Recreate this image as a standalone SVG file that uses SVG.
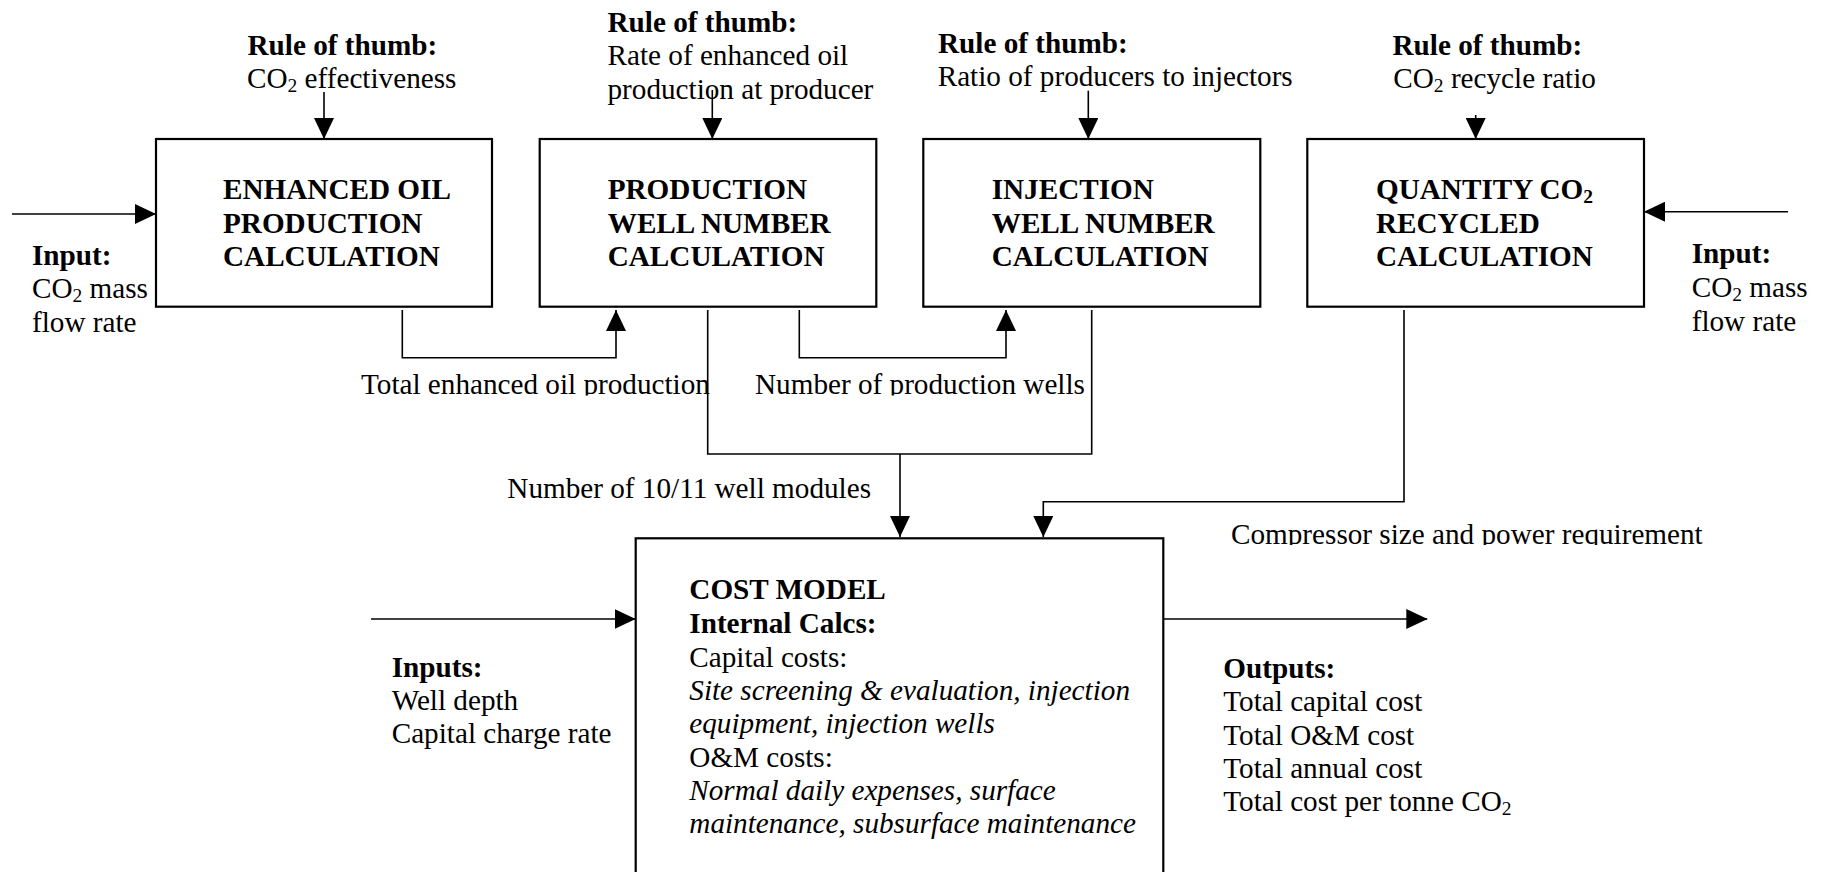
<svg xmlns="http://www.w3.org/2000/svg" width="1828" height="872" viewBox="0 0 1828 872">
<style>
text{font-family:"Liberation Serif","Times New Roman",serif;font-size:29.2px;fill:#000}
.b{font-weight:bold}
.i{font-style:italic}
.box{fill:#fff;stroke:#000;stroke-width:2.2}
.c{fill:none;stroke:#000;stroke-width:1.6}
</style>
<defs>
<marker id="ah" markerUnits="userSpaceOnUse" markerWidth="21" markerHeight="20" refX="21" refY="10" orient="auto">
<path d="M0,0 L21,10 L0,20 Z" fill="#000"/>
</marker>
<clipPath id="clipA"><rect x="0" y="0" width="1828" height="395.5"/></clipPath>
<clipPath id="clipB"><rect x="0" y="0" width="1828" height="545"/></clipPath>
</defs>
<rect width="1828" height="872" fill="#fff"/>

<g id="connectors">
<path class="c" d="M12,214 H156" marker-end="url(#ah)"/>
<path class="c" d="M1788,211.7 H1644" marker-end="url(#ah)"/>
<path class="c" d="M324,92 V139" marker-end="url(#ah)"/>
<path class="c" d="M712.3,90 V139" marker-end="url(#ah)"/>
<path class="c" d="M1088.3,90.7 V139" marker-end="url(#ah)"/>
<path class="c" d="M1475.7,115 V139" marker-end="url(#ah)"/>
<path class="c" d="M402.3,310 V357.7 H616 V310" marker-end="url(#ah)"/>
<path class="c" d="M799.3,310 V357.7 H1006 V310" marker-end="url(#ah)"/>
<path class="c" d="M707.7,310 V454 H1091.7 V310"/>
<path class="c" d="M900,454 V537" marker-end="url(#ah)"/>
<path class="c" d="M1404,310 V501.7 H1043.3 V537" marker-end="url(#ah)"/>
<path class="c" d="M371,619 H635.7" marker-end="url(#ah)"/>
<path class="c" d="M1163.3,619 H1427.3" marker-end="url(#ah)"/>
</g>

<g id="labels">
<text class="b" x="247.5" y="55">Rule of thumb:</text>
<text x="247" y="88">CO<tspan font-size="19.5" dy="4">2</tspan><tspan dy="-4"> effectiveness</tspan></text>
<text class="b" x="607.5" y="32">Rule of thumb:</text>
<text x="607.5" y="65.3">Rate of enhanced oil</text>
<text x="607.5" y="98.7">production at producer</text>
<text class="b" x="938" y="53">Rule of thumb:</text>
<text x="937.7" y="86">Ratio of producers to injectors</text>
<text class="b" x="1392.5" y="55">Rule of thumb:</text>
<text x="1393.3" y="88">CO<tspan font-size="19.5" dy="4">2</tspan><tspan dy="-4"> recycle ratio</tspan></text>

<text class="b" x="32" y="265">Input:</text>
<text x="32" y="298">CO<tspan font-size="19.5" dy="4">2</tspan><tspan dy="-4"> mass</tspan></text>
<text x="32" y="331.5">flow rate</text>

<text class="b" x="1691.7" y="263.3">Input:</text>
<text x="1691.7" y="297">CO<tspan font-size="19.5" dy="4">2</tspan><tspan dy="-4"> mass</tspan></text>
<text x="1691.7" y="330.7">flow rate</text>

<g clip-path="url(#clipA)">
<text x="361" y="394">Total enhanced oil production</text>
<text x="755" y="394">Number of production wells</text>
</g>
<text x="507.3" y="498.3">Number of 10/11 well modules</text>
<g clip-path="url(#clipB)">
<text x="1231" y="543.5">Compressor size and power requirement</text>
</g>

<text class="b" x="391.7" y="676.7">Inputs:</text>
<text x="391.7" y="710">Well depth</text>
<text x="391.7" y="743.3">Capital charge rate</text>

<text class="b" x="1223.3" y="677.7">Outputs:</text>
<text x="1223.3" y="711.3">Total capital cost</text>
<text x="1223.3" y="744.7">Total O&amp;M cost</text>
<text x="1223.3" y="778">Total annual cost</text>
<text x="1223.3" y="811.3">Total cost per tonne CO<tspan font-size="19.5" dy="4">2</tspan></text>
</g>

<g id="node-eop">
<rect class="box" x="156" y="139" width="336" height="167.7"/>
<text class="b" x="223" y="199.3">ENHANCED OIL</text>
<text class="b" x="223" y="232.7">PRODUCTION</text>
<text class="b" x="223" y="266">CALCULATION</text>
</g>

<g id="node-pwn">
<rect class="box" x="539.7" y="139" width="336.6" height="167.7"/>
<text class="b" x="607.7" y="199.3">PRODUCTION</text>
<text class="b" x="607.7" y="232.7">WELL NUMBER</text>
<text class="b" x="607.7" y="266">CALCULATION</text>
</g>

<g id="node-iwn">
<rect class="box" x="923.3" y="139" width="337" height="167.7"/>
<text class="b" x="991.7" y="199.3">INJECTION</text>
<text class="b" x="991.7" y="232.7">WELL NUMBER</text>
<text class="b" x="991.7" y="266">CALCULATION</text>
</g>

<g id="node-qcr">
<rect class="box" x="1307.3" y="139" width="336.7" height="167.7"/>
<text class="b" x="1376" y="199.3">QUANTITY CO<tspan font-size="19.5" dy="4">2</tspan></text>
<text class="b" x="1376" y="232.7">RECYCLED</text>
<text class="b" x="1376" y="266">CALCULATION</text>
</g>

<g id="node-cost">
<rect class="box" x="635.7" y="538.3" width="527.6" height="345"/>
<text class="b" x="689.3" y="599">COST MODEL</text>
<text class="b" x="689.3" y="633.3">Internal Calcs:</text>
<text x="689.3" y="666.7">Capital costs:</text>
<text class="i" x="689.3" y="700">Site screening &amp; evaluation, injection</text>
<text class="i" x="689.3" y="733.3">equipment, injection wells</text>
<text x="689.3" y="766.7">O&amp;M costs:</text>
<text class="i" x="689.3" y="800">Normal daily expenses, surface</text>
<text class="i" x="689.3" y="833.3">maintenance, subsurface maintenance</text>
</g>
</svg>
